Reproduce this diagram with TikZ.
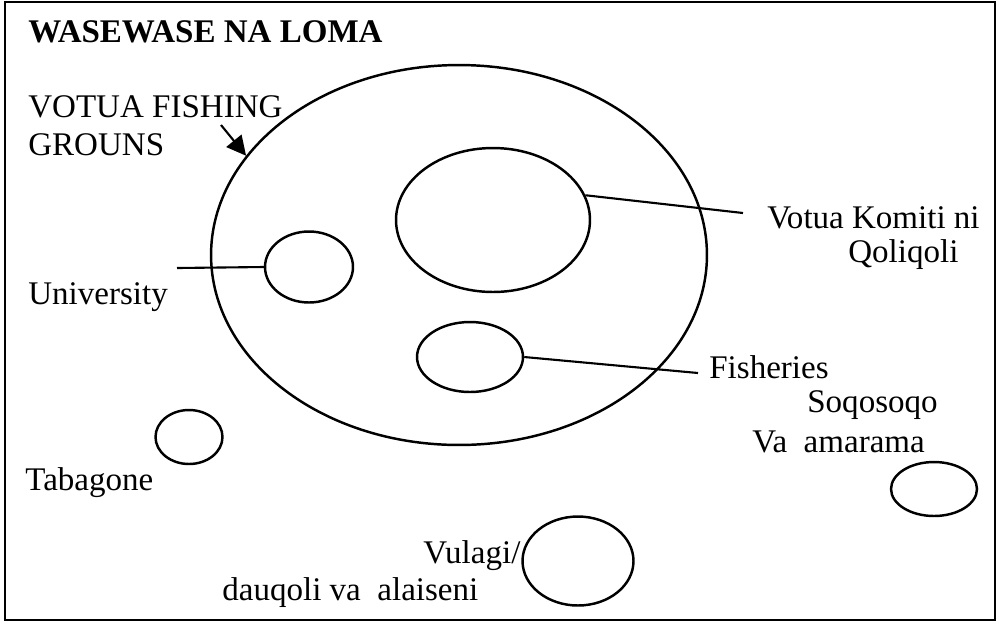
\documentclass[tikz,border=0pt]{standalone}
\usepackage{fontspec}
\setmainfont{Liberation Serif}
\usetikzlibrary{arrows.meta,shapes.geometric}

\begin{document}
\begin{tikzpicture}[
    x=0.02cm, y=-0.02cm,
    every node/.style={font=\fontsize{18.8}{22}\selectfont},
    ring/.style={
        ellipse,
        draw,
        line width=1.4pt,
        inner sep=0pt,
    },
    lbl/.style={
        anchor=base west,
        inner sep=0pt,
    },
    link/.style={line width=1.2pt},
]

\useasboundingbox (0,0) rectangle (999,623);

% --- Frame ---
\draw[line width=1.6pt] (5,2) rectangle (995,620);

% --- Title ---
\node[lbl, font=\fontsize{18.8}{22}\selectfont\bfseries] (title) at (28,42) {WASEWASE NA LOMA};

% --- Fishing grounds ---
\node[ring, minimum width=9.92cm, minimum height=7.6cm] (G) at (459,255) {};
\node[lbl] (grounds1) at (28,117) {VOTUA FISHING};
\node[lbl] (grounds2) at (28,155) {GROUNS};
\coordinate (gtail) at (221,125);
\draw[link, -{Triangle[length=11pt, width=11pt]}] (gtail) -- (G.155);

% --- Inside the grounds ---
\node[ring, minimum width=3.88cm, minimum height=2.88cm] (K) at (493,220) {};
\node[ring, minimum width=1.76cm, minimum height=1.42cm] (U) at (309,267) {};
\node[ring, minimum width=2.12cm, minimum height=1.4cm] (F) at (470,357) {};

\node[lbl] (komiti1) at (767,228) {Votua Komiti ni};
\node[lbl] (komiti2) at (848,262) {Qoliqoli};
\node[lbl] (uni) at (28,304) {University};
\node[lbl] (fish1) at (709,378) {Fisheries};
\node[lbl] (fish2) at (807,412) {Soqosoqo};
\node[lbl] (fish3) at (752,452) {Va~~amarama};

\coordinate (klead) at (743,213);
\coordinate (ulead) at (177,268);
\coordinate (flead) at (698,373);
\draw[link] (K.15) -- (klead);
\draw[link] (U.west) -- (ulead);
\draw[link] (F.east) -- (flead);

% --- Outside the grounds ---
\node[ring, minimum width=1.34cm, minimum height=1.08cm] (T) at (189,437) {};
\node[ring, minimum width=1.72cm, minimum height=1.08cm] (S) at (934,489) {};
\node[ring, minimum width=2.22cm, minimum height=1.78cm] (V) at (578,561) {};

\node[lbl] (taba) at (25,490) {Tabagone};
\node[lbl] (vulagi1) at (423,563) {Vulagi/};
\node[lbl] (vulagi2) at (222,600) {dauqoli va~~alaiseni};

\end{tikzpicture}
\end{document}
